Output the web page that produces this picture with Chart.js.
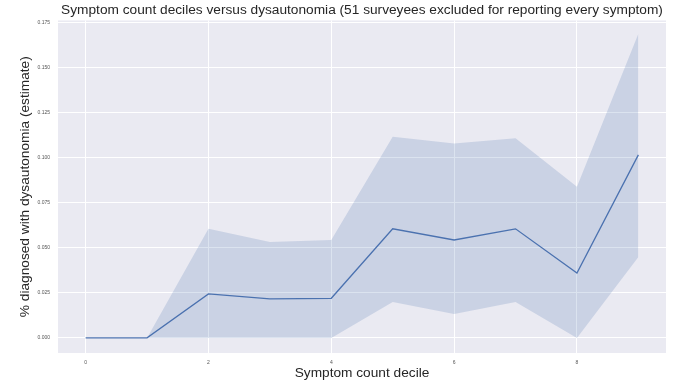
<!DOCTYPE html>
<html>
<head>
<meta charset="utf-8">
<script src="https://cdn.jsdelivr.net/npm/chart.js@4"></script>
<style>
  body { margin: 0; background: #fff; }
  canvas { display: block; }
</style>
</head>
<body>
<canvas id="decileChart" width="673" height="383"></canvas>
<script>
// Deciles on x, estimate with confidence band on y
const deciles = [0, 1, 2, 3, 4, 5, 6, 7, 8, 9];
const meanValues = [0, 0, 0.0244, 0.0217, 0.0220, 0.0606, 0.0544, 0.0606, 0.0360, 0.1017];
const upperValues = [0, 0, 0.0606, 0.0533, 0.0544, 0.1117, 0.1080, 0.1110, 0.0840, 0.1690];
const lowerValues = [0, 0, 0, 0, 0, 0.0200, 0.0133, 0.0200, 0, 0.0450];
const xTicks = [0, 2, 4, 6, 8];
const yTicks = [0, 0.025, 0.05, 0.075, 0.1, 0.125, 0.15, 0.175];

const toPoints = vals => deciles.map((d, i) => ({ x: d, y: vals[i] }));

// grey seaborn-style panel behind the plot
const panelBg = {
    id: 'panelBg',
    beforeDraw(chart) {
        const a = chart.chartArea;
        const c = chart.ctx;
        c.save();
        c.fillStyle = '#eaeaf2';
        c.fillRect(a.left, a.top, a.right - a.left, a.bottom - a.top);
        c.restore();
    }
};

const ctx = document.getElementById('decileChart').getContext('2d');
new Chart(ctx, {
    type: 'line',
    data: {
        datasets: [
            {
                data: toPoints(upperValues),
                borderWidth: 0,
                pointRadius: 0,
                backgroundColor: 'rgba(76, 114, 176, 0.2)',
                fill: '+1'
            },
            {
                data: toPoints(lowerValues),
                borderWidth: 0,
                pointRadius: 0,
                fill: false
            },
            {
                data: toPoints(meanValues),
                borderColor: '#4c72b0',
                borderWidth: 1.3,
                pointRadius: 0,
                fill: false
            }
        ]
    },
    options: {
        responsive: false,
        animation: false,
        layout: { padding: { right: 7 } },
        plugins: {
            legend: { display: false },
            tooltip: { enabled: false },
            title: {
                display: true,
                fullSize: false,
                text: 'Symptom count deciles versus dysautonomia (51 surveyees excluded for reporting every symptom)',
                color: '#262626',
                font: { family: 'Liberation Sans', size: 13.7, weight: 'normal' },
                padding: { top: 2, bottom: 2 }
            }
        },
        scales: {
            x: {
                type: 'linear',
                min: -0.45,
                max: 9.45,
                afterBuildTicks: s => { s.ticks = xTicks.map(v => ({ value: v })); },
                afterFit: s => { s.height = 30; },
                grid: { color: '#ffffff', lineWidth: 1, drawTicks: false },
                border: { display: false },
                ticks: {
                    color: '#555',
                    padding: 7,
                    font: { family: 'Liberation Sans', size: 5 },
                    callback: v => String(v)
                },
                title: {
                    display: true,
                    text: 'Symptom count decile',
                    color: '#262626',
                    font: { family: 'Liberation Sans', size: 13.7 },
                    padding: { top: 0, bottom: 2 }
                }
            },
            y: {
                min: -0.0084,
                max: 0.1764,
                afterBuildTicks: s => { s.ticks = yTicks.map(v => ({ value: v })); },
                afterFit: s => { s.width = 58; },
                grid: { color: '#ffffff', lineWidth: 1, drawTicks: false },
                border: { display: false },
                ticks: {
                    color: '#555',
                    padding: 8,
                    font: { family: 'Liberation Sans', size: 5 },
                    callback: v => v.toFixed(3)
                },
                title: {
                    display: true,
                    text: '% diagnosed with dysautonomia (estimate)',
                    color: '#262626',
                    font: { family: 'Liberation Sans', size: 13.7 },
                    padding: { top: 17, bottom: 0 }
                }
            }
        }
    },
    plugins: [panelBg]
});
</script>
</body>
</html>
